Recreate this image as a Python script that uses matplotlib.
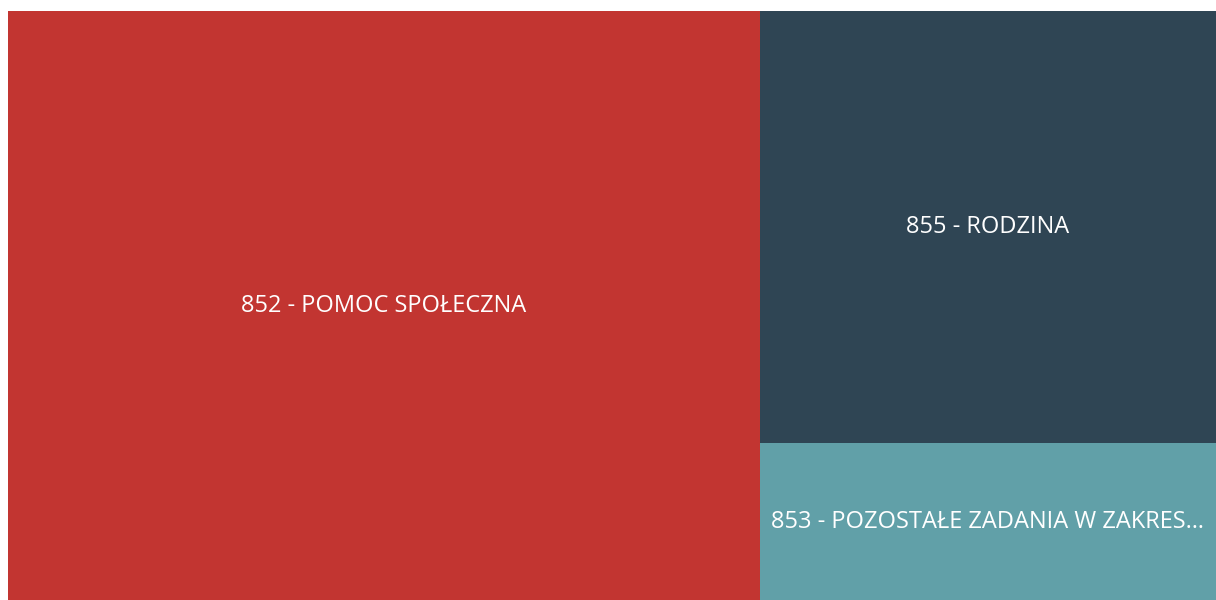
import matplotlib
matplotlib.use("Agg")
import matplotlib.pyplot as plt
from matplotlib.patches import Rectangle

labels = ["852 - POMOC SPOŁECZNA", "855 - RODZINA", "853 - POZOSTAŁE ZADANIA W ZAKRES…"]
values = [62.25, 27.69, 10.06]
colors = ["#C23531", "#2F4554", "#61A0A8"]

fig = plt.figure(figsize=(12.16, 6.0), dpi=100)
ax = fig.add_axes([8 / 1216, 0, 1208 / 1216, 589 / 600])
ax.set_xlim(0, 1)
ax.set_ylim(0, 1)
ax.axis("off")

total = sum(values)
# first item: full-height column on the left
w0 = values[0] / total
rects = [(0, 0, w0, 1)]
rest = values[1:]
rest_total = sum(rest)
y = 1.0
for v in rest:
    h = v / rest_total
    rects.append((w0, y - h, 1 - w0, h))
    y -= h

for (x0, y0, w, h), lab, c in zip(rects, labels, colors):
    ax.add_patch(Rectangle((x0, y0), w, h, facecolor=c, edgecolor="none"))
    ax.text(x0 + w / 2, y0 + h / 2, lab, ha="center", va="center",
            color="white", fontsize=17, family=["Open Sans", "DejaVu Sans"])

fig.savefig("out.png", dpi=100, facecolor="white")
